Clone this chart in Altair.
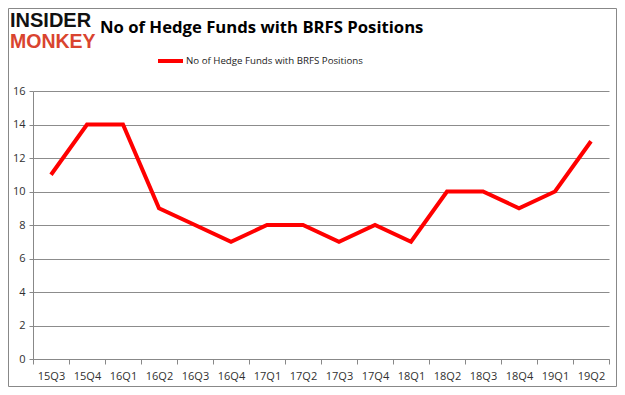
import altair as alt
import pandas as pd

quarters = ["15Q3", "15Q4", "16Q1", "16Q2", "16Q3", "16Q4", "17Q1", "17Q2",
            "17Q3", "17Q4", "18Q1", "18Q2", "18Q3", "18Q4", "19Q1", "19Q2"]
funds = [11, 14, 14, 9, 8, 7, 8, 8, 7, 8, 7, 10, 10, 9, 10, 13]
series_name = "No of Hedge Funds with BRFS Positions"
title_text = "No of Hedge Funds with BRFS Positions"

df = pd.DataFrame({"quarter": quarters, "funds": funds, "series": series_name})
one = pd.DataFrame({"k": [0]})

W, H = 576, 268
PL, PT = 25, 83
OX, OY = 8 + PL, 8 + PT  # page offset of plot origin

xenc = alt.X("quarter:O", sort=quarters, bandPosition=0.5,
             scale=alt.Scale(type="band", paddingInner=0, paddingOuter=0),
             axis=alt.Axis(title=None, labelAngle=0, tickBand="extent", domainColor="#888888",
                           tickColor="#888888", tickSize=5, labelPadding=6,
                           labelFont="Open Sans", labelFontSize=11, labelColor="#303030"))
yenc = alt.Y("funds:Q", scale=alt.Scale(domain=[0, 16]),
             axis=alt.Axis(title=None, values=list(range(0, 17, 2)), grid=True, gridColor="#8c8c8c",
                           domainColor="#888888", tickColor="#888888", tickSize=4, labelPadding=4,
                           labelFont="Open Sans", labelFontSize=11, labelColor="#303030"))

line = alt.Chart(df).mark_line(color="#ff0000", strokeWidth=4).encode(x=xenc, y=yenc)

border = alt.Chart(one).mark_rect(fill=None, stroke="#888888", strokeWidth=1).encode(
    x=alt.value(8.5 - OX), y=alt.value(8.5 - OY),
    x2=alt.value(616.5 - OX), y2=alt.value(386.5 - OY))

title = alt.Chart(one).mark_text(font="Open Sans", fontSize=16.7, fontWeight="bold",
                                 color="#000000", align="left", baseline="middle").encode(
    x=alt.value(100 - OX), y=alt.value(28 - OY), text=alt.value(title_text))

logo1 = alt.Chart(one).mark_text(font="Liberation Sans", fontSize=20, fontWeight="bold",
                                 color="#111111", align="left", baseline="middle").encode(
    x=alt.value(10 - OX), y=alt.value(21 - OY), text=alt.value("INSIDER"))
logo2 = alt.Chart(one).mark_text(font="Liberation Sans", fontSize=19.5, fontWeight="bold",
                                 color="#d9442f", align="left", baseline="middle").encode(
    x=alt.value(10 - OX), y=alt.value(42 - OY), text=alt.value("MONKEY"))

leg_line = alt.Chart(one).mark_rule(color="#ff0000", strokeWidth=4).encode(
    x=alt.value(158 - OX), x2=alt.value(183 - OX), y=alt.value(61 - OY))
leg_text = alt.Chart(one).mark_text(font="Open Sans", fontSize=9.7, color="#222222",
                                    align="left", baseline="middle").encode(
    x=alt.value(186 - OX), y=alt.value(61 - OY), text=alt.value(series_name))

chart = alt.layer(border, line, title, logo1, logo2, leg_line, leg_text).properties(
    width=W, height=H,
    autosize=alt.AutoSizeParams(type="none"),
    padding={"left": PL, "top": PT, "right": 8, "bottom": 28},
    background="#ffffff"
).configure_view(stroke=None)

chart.save("out.html", embed_options={"renderer": "svg", "actions": False})
